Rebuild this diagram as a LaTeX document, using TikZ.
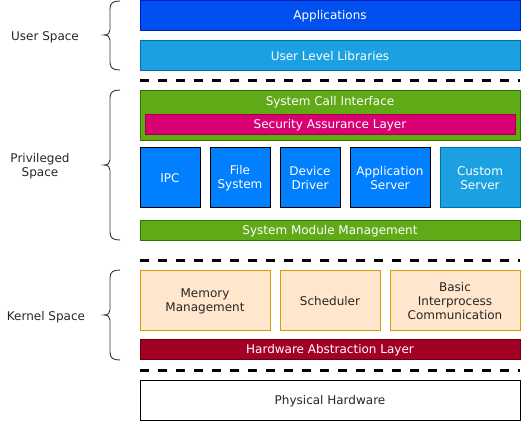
\documentclass[tikz,border=0pt]{standalone}
\usepackage{fontspec}
\setmainfont{DejaVu Sans}
\begin{document}
\begin{tikzpicture}[x=1pt,y=-1pt,
  every node/.style={font=\fontsize{12}{14}\selectfont, align=center, inner sep=0pt, yshift=-1pt},
  bluebox/.style={fill=blueA, draw=blueAs, text=white},
  lightblue/.style={fill=blueB, draw=blueBs, text=white},
  greenbox/.style={fill=greenA, draw=greenAs, text=white},
  midblue/.style={fill=blueC, draw=black, text=white},
  orangebox/.style={fill=orangeA, draw=orangeAs, text=black!85},
  sep/.style={line width=3pt, dash pattern=on 9pt off 9pt},
  brace/.style={line width=0.9pt, draw=black!80}
]
\definecolor{blueA}{HTML}{0050EF}
\definecolor{blueAs}{HTML}{001DBC}
\definecolor{blueB}{HTML}{1BA1E2}
\definecolor{blueBs}{HTML}{006EAF}
\definecolor{blueC}{HTML}{007FFF}
\definecolor{greenA}{HTML}{60A917}
\definecolor{greenAs}{HTML}{2D7600}
\definecolor{pinkA}{HTML}{D80073}
\definecolor{pinkAs}{HTML}{A50040}
\definecolor{redA}{HTML}{A20025}
\definecolor{redAs}{HTML}{6F0000}
\definecolor{orangeA}{HTML}{FFE6CC}
\definecolor{orangeAs}{HTML}{D79B00}
\useasboundingbox (0,0) rectangle (523,421);

% User space
\draw[bluebox] (140,0.5) rectangle (520,30) node[midway] (app) {Applications};
\draw[lightblue] (140,40) rectangle (520,70) node[midway] (ull) {User Level Libraries};
\draw[sep] (140,80) -- (520,80);

% Privileged space
\draw[greenbox] (140,90) rectangle (520,140);
\node[text=white] (sci) at (330,101.5) {System Call Interface};
\draw[fill=pinkA, draw=pinkAs] (145,114) rectangle (515,134) node[midway, text=white] (sal) {Security Assurance Layer};
\draw[midblue] (140,147) rectangle (200,207) node[midway] (ipc) {IPC};
\draw[midblue] (210,147) rectangle (270,207) node[midway] (fs) {File\\System};
\draw[midblue] (280,147) rectangle (340,207) node[midway] (dd) {Device\\Driver};
\draw[midblue] (350,147) rectangle (430,207) node[midway] (as) {Application\\Server};
\draw[lightblue] (440,147) rectangle (520,207) node[midway] (cs) {Custom\\Server};
\draw[greenbox] (140,220) rectangle (520,240) node[midway] (smm) {System Module Management};
\draw[sep] (140,260) -- (520,260);

% Kernel space
\draw[orangebox] (140,270) rectangle (270,330) node[midway] (mm) {Memory\\Management};
\draw[orangebox] (280,270) rectangle (380,330) node[midway] (sch) {Scheduler};
\draw[orangebox] (390,270) rectangle (520,330) node[midway] (ipcb) {Basic\\Interprocess\\Communication};
\draw[fill=redA, draw=redAs] (140,339) rectangle (520,359) node[midway, text=white] (hal) {Hardware Abstraction Layer};
\draw[sep] (140,370) -- (520,370);
\draw[draw=black, fill=white] (140,380) rectangle (520,420) node[midway, text=black!85] (ph) {Physical Hardware};

% Braces
\draw[brace] (120,1) .. controls (113,1) and (110,3) .. (110,9) -- (110,30) .. controls (110,33) and (108,35) .. (104,35)
  .. controls (108,35) and (110,37) .. (110,40) -- (110,62) .. controls (110,68) and (113,70) .. (120,70);
\draw[brace] (120,90) .. controls (113,90) and (110,92) .. (110,98) -- (110,160) .. controls (110,163) and (108,165) .. (104,165)
  .. controls (108,165) and (110,167) .. (110,170) -- (110,232) .. controls (110,238) and (113,240) .. (120,240);
\draw[brace] (120,270) .. controls (113,270) and (110,272) .. (110,278) -- (110,310) .. controls (110,313) and (108,315) .. (104,315)
  .. controls (108,315) and (110,317) .. (110,320) -- (110,352) .. controls (110,358) and (113,360) .. (120,360);

\node[text=black!85] (us) at (45,36) {User Space};
\node[text=black!85] (ps) at (40,165) {Privileged\\Space};
\node[text=black!85] (ks) at (46,316) {Kernel Space};
\end{tikzpicture}
\end{document}
